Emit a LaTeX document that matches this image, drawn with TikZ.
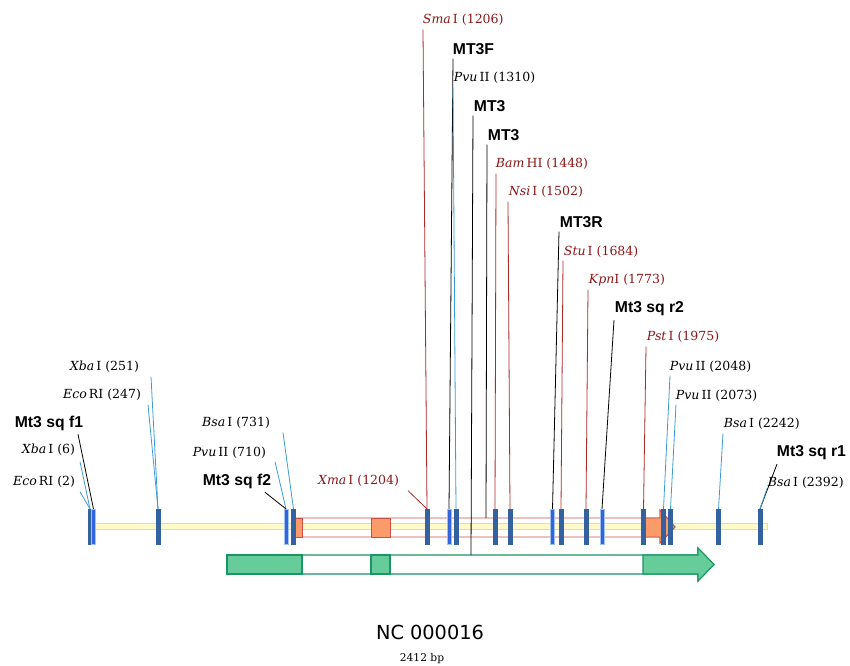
\documentclass[tikz,border=0pt]{standalone}
\usepackage{fontspec}
\setmainfont{DejaVu Serif}
\newfontfamily\primerfont{Liberation Sans}
\newfontfamily\titlefont{DejaVu Sans}
\usepackage{xcolor}
\usetikzlibrary{positioning}
\definecolor{enzred}{RGB}{140,22,22}
\definecolor{leadred}{RGB}{172,42,42}
\definecolor{leadblue}{RGB}{60,155,215}
\definecolor{markdark}{RGB}{52,98,160}
\definecolor{markbright}{RGB}{50,100,222}
\definecolor{markedge}{RGB}{160,195,240}
\definecolor{cdsedge}{RGB}{200,80,70}
\definecolor{cdsfill}{RGB}{250,155,105}
\definecolor{genedge}{RGB}{25,150,100}
\definecolor{genfill}{RGB}{102,204,153}
\definecolor{bbfill}{RGB}{255,250,200}
\definecolor{bbedge}{RGB}{232,222,150}
\tikzset{
  site/.style={inner sep=0.5pt, font=\fontsize{9.4}{11}\selectfont},
  redsite/.style={site, text=enzred},
  primer/.style={inner sep=0.5pt, font=\primerfont\bfseries\fontsize{11.8}{13}\selectfont},
  cut/.style={rectangle, draw=markdark, fill=markdark, line width=0.3pt, minimum width=3pt, minimum height=26pt, inner sep=0pt},
  pcut/.style={cut, draw=markedge, fill=markbright},
  lb/.style={draw=leadblue, line width=0.6pt},
  lr/.style={draw=leadred, line width=0.6pt},
  lk/.style={draw=black, line width=0.6pt}
}

\begin{document}
\begin{tikzpicture}[x=0.75pt, y=-0.75pt]
\useasboundingbox (0,0) rectangle (850,666);

% backbone
\draw[bbedge, fill=bbfill, line width=0.5pt] (93,523) rectangle (767,529);

% cds (red/orange)
\draw[cdsedge, line width=0.7pt] (295,518) -- (660,518) -- (660,510) -- (675,527) -- (660,543) -- (660,537) -- (295,537) -- cycle;
\draw[cdsedge, fill=cdsfill, line width=0.7pt] (295,518) rectangle (302,537);
\draw[cdsedge, fill=cdsfill, line width=0.7pt] (371,518) rectangle (390,537);
\draw[cdsedge, fill=cdsfill, line width=0.7pt] (643,518) -- (660,518) -- (660,510) -- (675,527) -- (660,543) -- (660,537) -- (643,537) -- cycle;

% gene (green)
\draw[genedge, fill=white, line width=0.8pt] (227,555) -- (698,555) -- (698,548) -- (714,564.5) -- (698,581) -- (698,574) -- (227,574) -- cycle;
\draw[genedge, fill=genfill, line width=0.8pt] (227,555) rectangle (302,574);
\draw[genedge, fill=genfill, line width=0.8pt] (371,555) rectangle (390,574);
\draw[genedge, fill=genfill, line width=0.8pt] (643,555) -- (698,555) -- (698,548) -- (714,564.5) -- (698,581) -- (698,574) -- (643,574) -- cycle;

\coordinate (gtop) at (471,555);
\coordinate (rtop) at (486,518);

% sites
\node[cut] (m1) at (90,526.5) {};
\node[pcut] (m2) at (93.5,526.5) {};
\node[cut] (m3) at (158,526.5) {};
\node[pcut] (m4) at (286,526.5) {};
\node[cut] (m5) at (293.5,526.5) {};
\node[cut] (m6) at (427,526.5) {};
\node[pcut] (m7) at (449,526.5) {};
\node[cut] (m8) at (456,526.5) {};
\node[cut] (m9) at (495,526.5) {};
\node[cut] (m10) at (510,526.5) {};
\node[pcut] (m11) at (552.5,526.5) {};
\node[cut] (m12) at (561,526.5) {};
\node[cut] (m13) at (586,526.5) {};
\node[pcut] (m14) at (602,526.5) {};
\node[cut] (m15) at (643.5,526.5) {};
\node[cut] (m16) at (663.5,526.5) {};
\node[cut] (m17) at (670.5,526.5) {};
\node[cut] (m18) at (718.5,526.5) {};
\node[cut] (m19) at (760,526.5) {};

% labels, left
\node[site, anchor=east] (eco2) at (76,482) {\textit{Eco}\,RI (2)};
\node[site, anchor=east] (xba6) at (76,450) {\textit{Xba}\,I (6)};
\node[primer, anchor=east] (sqf1) at (84,423) {Mt3 sq f1};
\node[site, anchor=east] (eco247) at (142,395) {\textit{Eco}\,RI (247)};
\node[site, anchor=east] (xba251) at (140,367) {\textit{Xba}\,I (251)};
\node[site, anchor=east] (bsa731) at (271,423) {\textit{Bsa}\,I (731)};
\node[site, anchor=east] (pvu710) at (267,453) {\textit{Pvu}\,II (710)};
\node[primer, anchor=east] (sqf2) at (272,481) {Mt3 sq f2};
\node[redsite, anchor=east] (xma) at (400,481) {\textit{Xma}\,I (1204)};

% labels, top
\node[redsite, anchor=west] (sma) at (422,20) {\textit{Sma}\,I (1206)};
\node[primer, anchor=west] (mt3f) at (452,49) {MT3F};
\node[site, anchor=west] (pvu1310) at (453,78) {\textit{Pvu}\,II (1310)};
\node[primer, anchor=west] (mt3a) at (473,106) {MT3};
\node[primer, anchor=west] (mt3b) at (487,135) {MT3};
\node[redsite, anchor=west] (bam) at (495,164) {\textit{Bam}\,HI (1448)};
\node[redsite, anchor=west] (nsi) at (508,192) {\textit{Nsi}\,I (1502)};
\node[primer, anchor=west] (mt3r) at (559,222) {MT3R};
\node[redsite, anchor=west] (stu) at (563,252) {\textit{Stu}\,I (1684)};
\node[redsite, anchor=west] (kpn) at (588,280) {\textit{Kpn}I (1773)};
\node[primer, anchor=west] (sqr2) at (614,309) {Mt3 sq r2};
\node[redsite, anchor=west] (pst) at (646,337) {\textit{Pst}\,I (1975)};
\node[site, anchor=west] (pvu2048) at (669,367) {\textit{Pvu}\,II (2048)};
\node[site, anchor=west] (pvu2073) at (675,396) {\textit{Pvu}\,II (2073)};
\node[site, anchor=west] (bsa2242) at (723,424) {\textit{Bsa}\,I (2242)};
\node[primer, anchor=west] (sqr1) at (776,453) {Mt3 sq r1};
\node[site, anchor=west] (bsa2392) at (767,483) {\textit{Bsa}\,I (2392)};

% leaders
\draw[lb] ([shift={(4,3)}]eco2.south east) -- (m1.north);
\draw[lb] ([shift={(4,5)}]xba6.south east) -- (m1.north);
\draw[lk] ([shift={(-6,3)}]sqf1.south east) -- (m2.north);
\draw[lb] ([shift={(6,3)}]eco247.south east) -- (m3.north);
\draw[lb] ([shift={(11,3)}]xba251.south east) -- (m3.north);
\draw[lb] ([shift={(12,3)}]bsa731.south east) -- (m5.north);
\draw[lb] ([shift={(8,2)}]pvu710.south east) -- (m4.north);
\draw[lk] ([shift={(-7,3)}]sqf2.south east) -- (m4.north);
\draw[lr] ([shift={(8,3)}]xma.south east) -- (m6.north);
\draw[lr] ([shift={(1,3)}]sma.south west) -- (m6.north);
\draw[lk] ([shift={(1,3)}]mt3f.south west) -- (m7.north);
\draw[lb] ([shift={(0,3)}]pvu1310.south west) -- (m8.north);
\draw[lk] ([shift={(0,3)}]mt3a.south west) -- (gtop);
\draw[lk] ([shift={(0,3)}]mt3b.south west) -- (rtop);
\draw[lr] ([shift={(1,3)}]bam.south west) -- (m9.north);
\draw[lr] ([shift={(0,3)}]nsi.south west) -- (m10.north);
\draw[lk] ([shift={(0,3)}]mt3r.south west) -- (m11.north);
\draw[lr] ([shift={(0,2)}]stu.south west) -- (m12.north);
\draw[lr] ([shift={(0,3)}]kpn.south west) -- (m13.north);
\draw[lk] ([shift={(0,3)}]sqr2.south west) -- (m14.north);
\draw[lr] ([shift={(0,3)}]pst.south west) -- (m15.north);
\draw[lb] ([shift={(1,2)}]pvu2048.south west) -- (m16.north);
\draw[lb] ([shift={(1,2)}]pvu2073.south west) -- (m17.north);
\draw[lb] ([shift={(0,3)}]bsa2242.south west) -- (m18.north);
\draw[lk] ([shift={(1,3)}]sqr1.south west) -- (m19.north);
\draw[lb] ([shift={(0,-1)}]bsa2392.south west) -- (m19.north);

% title
\node[font=\titlefont\fontsize{14.5}{16}\selectfont, inner sep=0pt] (name) at (430,632) {NC 000016};
\node[site, font=\fontsize{8}{9}\selectfont] (len) at (422,659) {2412 bp};
\end{tikzpicture}
\end{document}
